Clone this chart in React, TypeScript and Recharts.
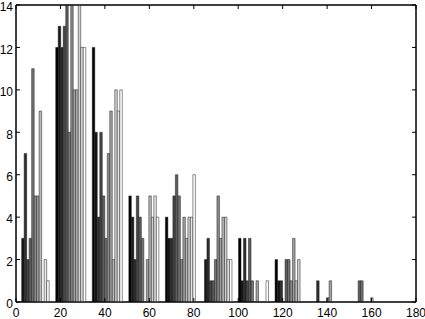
import { BarChart, Bar, XAxis, YAxis, ReferenceArea } from 'recharts';

// bin centres on the x axis
const groupCenters = [8.3, 24.75, 41.2, 57.65, 74.1, 90.55, 107.0, 123.45, 139.9, 156.35];

// 12 series per bin, read left to right (black -> white)
const bin1 = [0, 3, 7, 2, 3, 11, 5, 5, 9, 0, 2, 1];
const bin2 = [12, 13, 12, 13, 14, 8, 14, 10, 10, 14, 12, 12];
const bin3 = [12, 8, 4, 8, 5, 3, 7, 9, 2, 10, 9, 10];
const bin4 = [5, 4, 2, 5, 4, 3, 0, 2, 5, 4, 5, 4];
const bin5 = [4, 3, 3, 5, 6, 5, 2, 4, 3, 4, 4, 6];
const bin6 = [0, 2, 3, 1, 1, 2, 5, 3, 4, 4, 2, 2];
const bin7 = [3, 1, 3, 1, 3, 1, 0, 1, 0, 0, 0, 1];
const bin8 = [2, 1, 1, 0, 2, 2, 1, 3, 1, 2, 0, 0];
const bin9 = [0, 0, 1, 0, 0, 0, 0.2, 1, 0, 0, 0, 0];
const bin10 = [0, 0, 0, 0, 1, 1, 0, 0, 0, 0.2, 0, 0];

const xTicks = [0, 20, 40, 60, 80, 100, 120, 140, 160, 180];
const yTicks = [0, 2, 4, 6, 8, 10, 12, 14];

const bins = [bin1, bin2, bin3, bin4, bin5, bin6, bin7, bin8, bin9, bin10];
const seriesCount = bin1.length;

const data = groupCenters.map((x, g) => {
  const row: Record<string, number> = { x };
  bins[g].forEach((v, i) => {
    row[`s${i}`] = v;
  });
  return row;
});

// gray colormap, black to white
const grayLevel = (i: number) => {
  const c = Math.round((i / (seriesCount - 1)) * 255);
  return `rgb(${c},${c},${c})`;
};

const fontFamily = '"Liberation Sans Narrow", "Liberation Sans", Arial, sans-serif';
const xFont = { fontSize: 12, fill: '#000', fontFamily };
const yFont = { fontSize: 12, fill: '#000', fontFamily, dy: 2 };
const noTick = () => <g />;

export default function App() {
  return (
    <div style={{ position: 'absolute', left: 0, top: 0, width: 425, height: 319, background: '#fff' }}>
      <BarChart
        width={425}
        height={319}
        data={data}
        barGap={0}
        margin={{ top: 4, right: 8, bottom: 0, left: 0 }}
      >
        <XAxis
          dataKey="x"
          type="number"
          domain={[0, 180]}
          ticks={xTicks}
          interval={0}
          allowDataOverflow
          height={17}
          tickSize={-4}
          tickMargin={10}
          axisLine={{ stroke: '#000' }}
          tickLine={{ stroke: '#000' }}
          tick={xFont}
        />
        <XAxis
          xAxisId="top"
          dataKey="x"
          type="number"
          orientation="top"
          domain={[0, 180]}
          ticks={xTicks}
          interval={0}
          allowDataOverflow
          height={1}
          tickSize={-4}
          axisLine={{ stroke: '#000' }}
          tickLine={{ stroke: '#000' }}
          tick={noTick}
        />
        <YAxis
          domain={[0, 14]}
          ticks={yTicks}
          interval={0}
          allowDataOverflow
          width={16}
          tickSize={-4}
          tickMargin={7}
          axisLine={{ stroke: '#000' }}
          tickLine={{ stroke: '#000' }}
          tick={yFont}
        />
        <YAxis
          yAxisId="right"
          orientation="right"
          domain={[0, 14]}
          ticks={yTicks}
          interval={0}
          allowDataOverflow
          width={1}
          tickSize={-4}
          axisLine={{ stroke: '#000' }}
          tickLine={{ stroke: '#000' }}
          tick={noTick}
        />
        {bin1.map((_, i) => (
          <Bar
            key={i}
            dataKey={`s${i}`}
            fill={grayLevel(i)}
            stroke="#1a1a1a"
            strokeWidth={0.5}
            barSize={2.5}
            isAnimationActive={false}
          />
        ))}
        <ReferenceArea x1={0} x2={180} y1={0} y2={14} fill="none" stroke="#000" strokeWidth={1} ifOverflow="visible" />
      </BarChart>
    </div>
  );
}
